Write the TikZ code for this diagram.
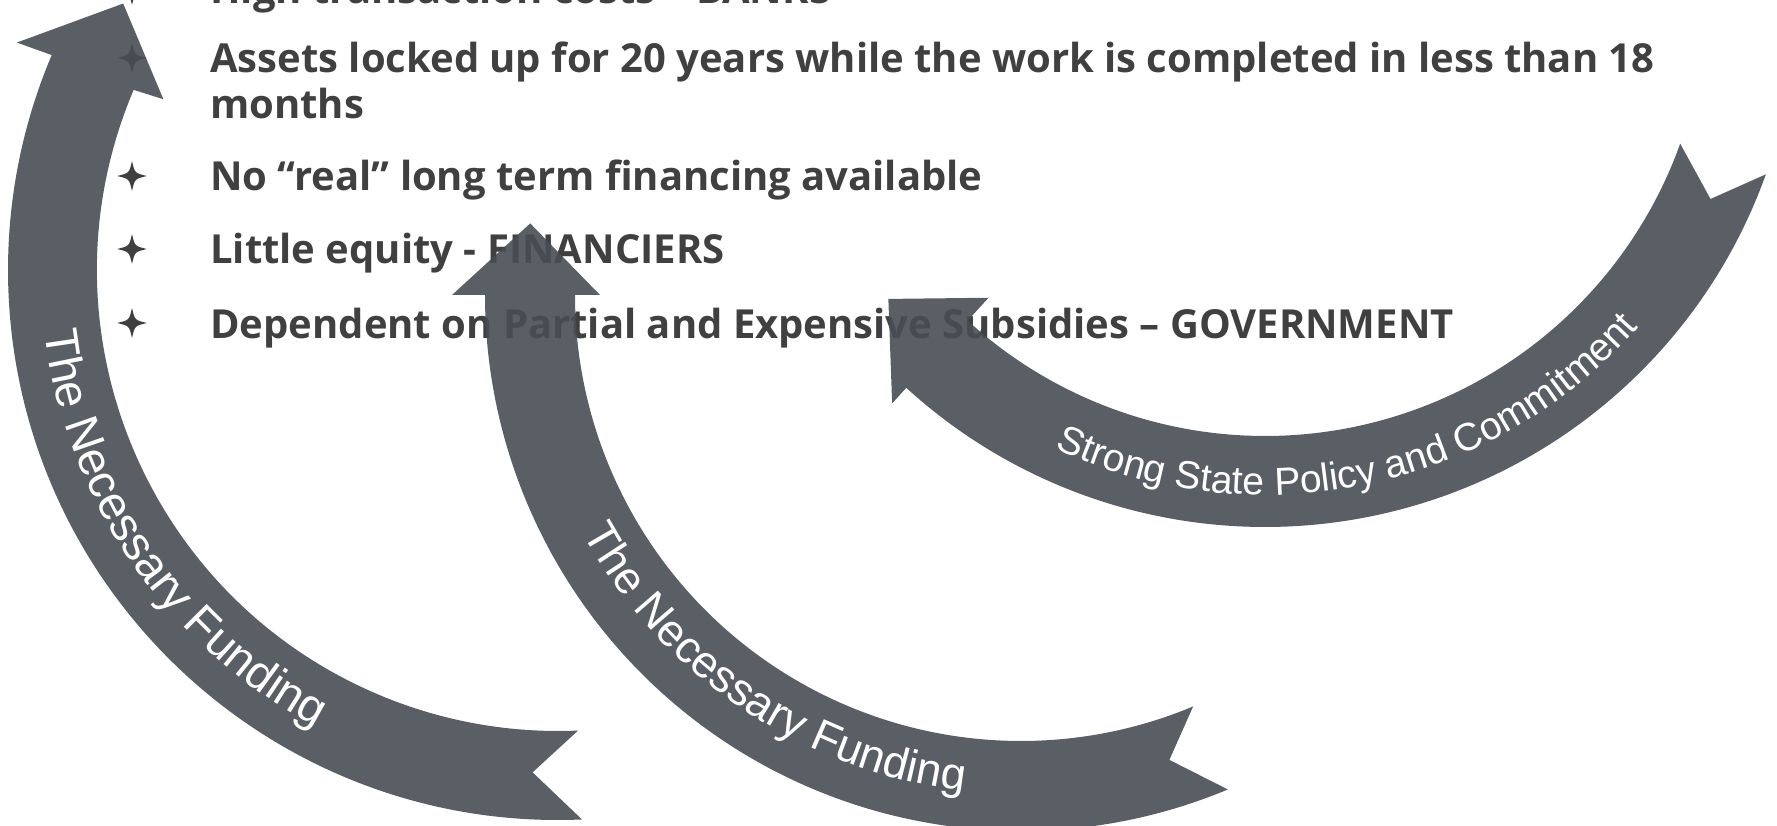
\documentclass[tikz,border=0pt]{standalone}
\usepackage{fontspec}
\setmainfont{Open Sans}
\newfontfamily\bandfont{Liberation Sans}
\usetikzlibrary{decorations.text}
\definecolor{ink}{RGB}{64,64,64}
\definecolor{bandgray}{RGB}{72,77,84}
\tikzset{
  itemtext/.style={anchor=base west, text=ink, inner sep=0pt,
    font=\bfseries\fontsize{40}{46}\selectfont},
  band/.style={fill=bandgray, fill opacity=0.9},
  starbullet/.pic={
    \fill[ink] (0,15) .. controls (2.8,2.8) .. (15,0)
      .. controls (2.8,-2.8) .. (0,-15)
      .. controls (-2.8,-2.8) .. (-15,0)
      .. controls (-2.8,2.8) .. (0,15) -- cycle;}
}
\begin{document}
\begin{tikzpicture}[x=1pt,y=1pt]
\useasboundingbox (0,-826) rectangle (1777,0);

% bullet list
\foreach \by in {10,-58,-176,-249,-323}
  \pic at (132,\by) {starbullet};
\node[itemtext] (t0) at (210,-4) {High transaction costs – BANKS};
\node[itemtext] (t1) at (210,-73) {\begin{tabular}[t]{@{}l@{}}Assets locked up for 20 years while the work is completed in less than 18\\months\end{tabular}};
\node[itemtext] (t2) at (210,-191) {No “real” long term financing available};
\node[itemtext] (t3) at (210,-264) {Little equity - FINANCIERS};
\node[itemtext] (t4) at (210,-338) {Dependent on Partial and Expensive Subsidies – GOVERNMENT};

% left curved arrow
\begin{scope}[shift={(558,-270)}]
  \fill[band] (-87.5:550pt) arc[start angle=-87.5, end angle=-203, radius=550pt]
    -- (-202.8:587pt) -- (-211.5:510pt) -- (-203.4:430pt) -- (-203:461pt)
    arc[start angle=-203, end angle=-87.5, radius=461pt]
    -- (-92.9:503pt) -- cycle;
  \path[decorate, decoration={text along path, text align=center, text color=white,
      text={|\bandfont\fontsize{47}{47}\selectfont|The Necessary Funding}}]
    (174.5:517pt) arc[start angle=174.5, end angle=254.5, radius=517pt];
\end{scope}

% middle curved arrow
\begin{scope}[shift={(1021,-295)}]
  \fill[band] (-67.3:536pt) arc[start angle=-67.3, end angle=-180, radius=536pt]
    -- (-180:569pt) -- (-188.3:496pt) -- (-180:421pt) -- (-180:446pt)
    arc[start angle=-180, end angle=-67.3, radius=446pt]
    -- (-72.3:488pt) -- cycle;
  \path[decorate, decoration={text along path, text align=center, text color=white,
      text={|\bandfont\fontsize{45}{45}\selectfont|The Necessary Funding}}]
    (196:499pt) arc[start angle=196, end angle=276, radius=499pt];
\end{scope}

% right curved arrow
\begin{scope}[shift={(1265,5)}]
  \fill[band] (-19.7:532pt) arc[start angle=-19.7, end angle=-132.4, radius=532pt]
    -- (-132.4:553pt) -- (-141.1:484pt) -- (-132.4:410pt) -- (-132.4:441pt)
    arc[start angle=-132.4, end angle=-19.7, radius=441pt]
    -- (-24.6:490pt) -- cycle;
  \path[decorate, decoration={text along path, text align=center, text color=white,
      text={|\bandfont\fontsize{39}{39}\selectfont|Strong State Policy and Commitment}}]
    (236.7:500pt) arc[start angle=236.7, end angle=326.7, radius=500pt];
\end{scope}
\end{tikzpicture}
\end{document}
